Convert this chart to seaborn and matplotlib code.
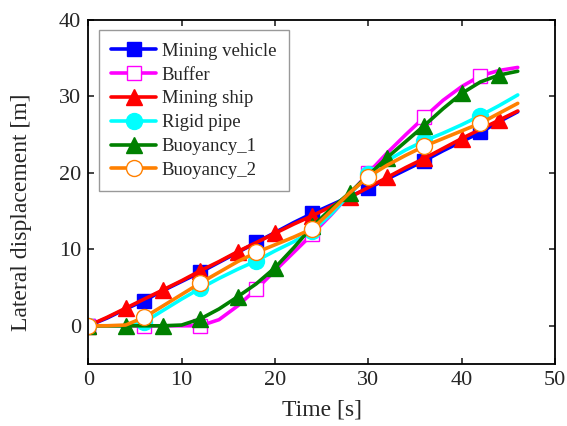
import numpy as np
import pandas as pd
import matplotlib
matplotlib.use("Agg")
import matplotlib.pyplot as plt
import seaborn as sns

time = [0, 2, 4, 6, 8, 10, 12, 14, 16, 18, 20, 22, 24, 26, 28, 30, 32, 34, 36, 38, 40, 42, 44, 46]
mining_vehicle = [0, 1.0, 2.2, 3.3, 4.6, 5.8, 7.0, 8.3, 9.6, 10.9, 12.2, 13.5, 14.7, 15.8, 16.9, 18.0,
                  19.2, 20.4, 21.6, 22.9, 24.1, 25.3, 26.7, 28.0]
buffer = [0, 0, 0, 0, 0, 0, 0, 0.8, 2.6, 4.8, 7.2, 9.6, 12.0, 14.5, 17.2, 20.0,
          22.6, 25.0, 27.3, 29.5, 31.3, 32.7, 33.4, 33.8]
mining_ship = [0, 1.1, 2.3, 3.5, 4.7, 5.9, 7.2, 8.4, 9.7, 10.9, 12.1, 13.3, 14.4, 15.6, 16.8, 18.1,
               19.4, 20.7, 21.9, 23.2, 24.5, 25.7, 26.9, 28.1]
rigid_pipe = [0, 0, 0, 0.5, 2.0, 3.5, 4.9, 6.2, 7.4, 8.5, 9.8, 11.0, 12.4, 14.6, 17.2, 19.8,
              21.6, 23.0, 24.2, 25.2, 26.3, 27.5, 28.8, 30.2]
buoyancy_1 = [0, 0, 0, 0, 0, 0.1, 0.9, 2.2, 3.8, 5.5, 7.6, 10.2, 13.0, 15.3, 17.4, 19.7,
              22.0, 24.1, 26.2, 28.4, 30.4, 31.9, 32.8, 33.3]
buoyancy_2 = [0, 0, 0.1, 1.1, 2.6, 4.1, 5.6, 7.0, 8.4, 9.6, 10.6, 11.6, 12.7, 15.0, 17.4, 19.5,
              21.0, 22.3, 23.5, 24.5, 25.5, 26.5, 27.8, 29.1]

series_names = ["Mining vehicle", "Buffer", "Mining ship", "Rigid pipe", "Buoyancy_1", "Buoyancy_2"]
series_values = [mining_vehicle, buffer, mining_ship, rigid_pipe, buoyancy_1, buoyancy_2]

x_ticks = [0, 10, 20, 30, 40, 50]
y_ticks = [0, 10, 20, 30, 40]

styles = {
    "Mining vehicle": dict(color="#0000FF", marker="s", ms=9.5, mfc="#0000FF", mec="#0000FF", every=3),
    "Buffer": dict(color="#FF00FF", marker="s", ms=9.5, mfc="white", mec="#FF00FF", every=3),
    "Mining ship": dict(color="#FF0000", marker="^", ms=12, mfc="#FF0000", mec="#FF0000", every=2),
    "Rigid pipe": dict(color="#00FFFF", marker="o", ms=11.5, mfc="#00FFFF", mec="#00FFFF", every=3),
    "Buoyancy_1": dict(color="#008000", marker="^", ms=12, mfc="#008000", mec="#008000", every=2),
    "Buoyancy_2": dict(color="#FF8000", marker="o", ms=11.5, mfc="white", mec="#FF8000", every=3),
}

sns.set_style("ticks")
plt.rcParams["font.family"] = ["Liberation Serif", "DejaVu Serif"]

fig = plt.figure(figsize=(5.67, 4.26), dpi=100)
ax = fig.add_axes([0.1557, 0.1455, 0.979 - 0.1557, 0.953 - 0.1455])

for name, vals in zip(series_names, series_values):
    st = styles[name]
    df = pd.DataFrame({"t": time, "y": vals})
    sns.lineplot(data=df, x="t", y="y", ax=ax, color=st["color"], linewidth=2.6,
                 marker=st["marker"], markersize=st["ms"], markerfacecolor=st["mfc"],
                 markeredgecolor=st["mec"], markeredgewidth=1.0, markevery=st["every"],
                 label=name, sort=False)

ax.set_xlim(0, 50)
ax.set_ylim(-5, 40)
ax.set_xticks(x_ticks)
ax.set_yticks(y_ticks)
ax.tick_params(direction="in", length=4, width=1.2, labelsize=16, top=True, right=True,
               labeltop=False, labelright=False, pad=5)
for sp in ax.spines.values():
    sp.set_linewidth(1.3)
    sp.set_color("black")
ax.set_xlabel("Time [s]", fontsize=17, labelpad=7)
ax.set_ylabel("Lateral displacement [m]", fontsize=17)
ax.yaxis.set_label_coords(-0.121, 0.44)

leg = ax.legend(loc="upper left", bbox_to_anchor=(0.023, 0.97), borderaxespad=0,
                fontsize=13.5, frameon=True, fancybox=False, edgecolor="#808080",
                handlelength=2.4, handletextpad=0.3, labelspacing=0.36, borderpad=0.65)
leg.get_frame().set_linewidth(1.0)

fig.savefig("out.png", dpi=100)
